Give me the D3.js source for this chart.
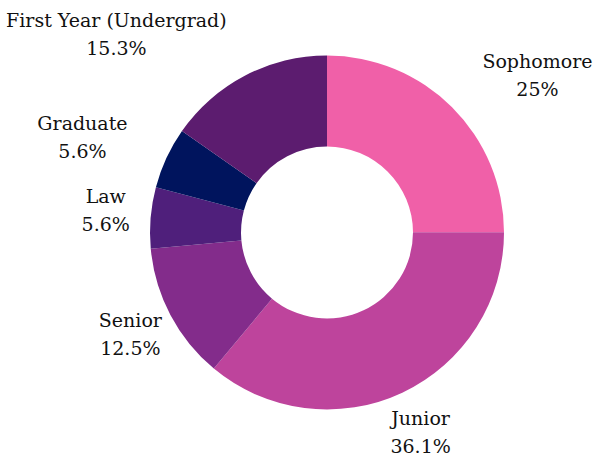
<!DOCTYPE html>
<html>
<head>
<meta charset="utf-8">
<script src="https://cdn.jsdelivr.net/npm/d3@7"></script>
<style>
  body { margin: 0; background: #fff; }
  text { font-family: "DejaVu Serif", serif; font-size: 19px; fill: #111; }
</style>
</head>
<body>
<div id="chart"></div>
<script>
// Data
const categories = ["Sophomore", "Junior", "Senior", "Law", "Graduate", "First Year (Undergrad)"];
const shares = [25, 36.1, 12.5, 5.6, 5.6, 15.3];
const colors = ["#f060a8", "#be449c", "#832c8b", "#4f1f7b", "#00145d", "#5c1c6f"];

const width = 597, height = 458;
const cx = 327, cy = 232.5;
const outerR = 177, innerR = 86;

// label nudges (px), tuned to the reference layout
const labelNudge = {
    "Sophomore": [55, -5],
    "Junior": [0, -3],
    "Senior": [-2, -4],
    "Law": [-2, -7],
    "Graduate": [-45, -6],
    "First Year (Undergrad)": [-109, -6]
};

const svg = d3.select("#chart").append("svg")
    .attr("width", width)
    .attr("height", height);

const g = svg.append("g").attr("transform", `translate(${cx},${cy})`);

const pie = d3.pie().sort(null).value(d => d.value);
const arcs = pie(categories.map((c, i) => ({ name: c, value: shares[i], color: colors[i] })));

const arc = d3.arc().innerRadius(innerR).outerRadius(outerR);

g.selectAll("path")
    .data(arcs)
    .enter()
    .append("path")
    .attr("d", arc)
    .attr("fill", d => d.data.color);

// Labels placed outside, along the slice's mid angle
const labelR = 220;
const labels = g.selectAll("g.label")
    .data(arcs)
    .enter()
    .append("g")
    .attr("class", "label")
    .attr("transform", d => {
        const a = (d.startAngle + d.endAngle) / 2;
        const n = labelNudge[d.data.name] || [0, 0];
        const x = labelR * Math.sin(a) + n[0];
        const y = -labelR * Math.cos(a) + n[1];
        return `translate(${x},${y})`;
    });

labels.append("text")
    .attr("text-anchor", "middle")
    .attr("y", -4)
    .text(d => d.data.name);

labels.append("text")
    .attr("text-anchor", "middle")
    .attr("y", 24)
    .text(d => d.data.value + "%");
</script>
</body>
</html>
